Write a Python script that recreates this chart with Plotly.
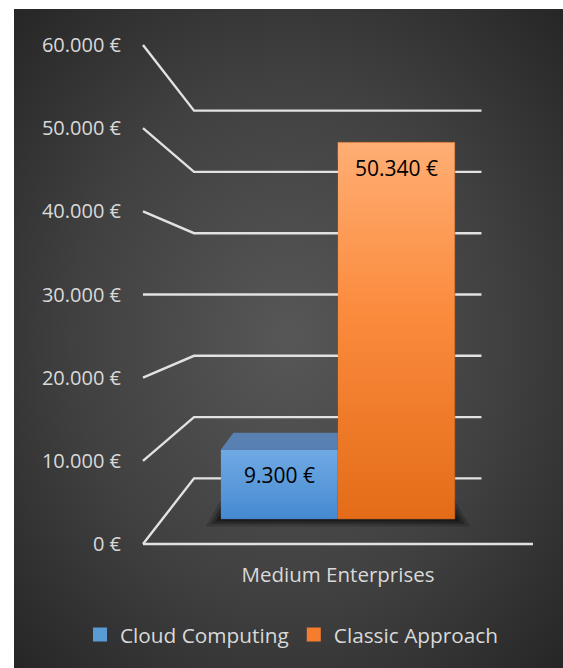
import base64
import plotly.graph_objects as go

# ---------------- data ----------------
categories = ["Medium Enterprises"]
series_names = ["Cloud Computing", "Classic Approach"]
cloud_computing = [9300]
classic_approach = [50340]
y_tick_values = [0, 10000, 20000, 30000, 40000, 50000, 60000]

series_values = [cloud_computing, classic_approach]

# ---------------- layout / style constants ----------------
W, H = 563, 668
L, R, T, B = 133, 10, 20, 108
PLOT_W = W - L - R
PLOT_H = H - T - B
Y0_PX, YTOP_PX = 544, 45          # pixel rows of 0 and of the top tick on the front plane
PPV = (Y0_PX - YTOP_PX) / y_tick_values[-1]
Y_RANGE = [(Y0_PX - (H - B)) / PPV, (Y0_PX - T) / PPV]
X_RANGE = [L, W - R]

VX = 337          # vanishing point (horizontal)
VH = 30000        # horizon expressed as an axis value
F_BACK = 0.737    # depth scale of back wall
F_BAR_FRONT = 0.90
F_BAR_BACK = 0.803
WALL_LEFT, WALL_RIGHT = 143, 533
GROUP_CENTER = 338
BAR_W = 130

LINE_COLOR = "#e2e2e2"
TEXT_COLOR = "#d9d9d9"
FONT = "Open Sans"

front_grad = [
    [[0, "#4689d0"], [1, "#70aae4"]],
    [[0, "#e46c18"], [0.55, "#fb8b3d"], [1, "#ffae74"]],
]
top_color = ["#5880b0", "#f09050"]
legend_color = ["#5b9bd5", "#f47d2e"]
edge_color = ["rgba(60,100,160,0.35)", "rgba(170,85,30,0.55)"]


def proj(u, v, f):
    """perspective projection of (horizontal u, value v, depth factor f)"""
    return VX + f * (u - VX), VH + f * (v - VH)


def fmt(v):
    return f"{v:,}".replace(",", ".") + " €"


fig = go.Figure()

# ---- soft shadow under the bars ----
for pad, fr, bk, op in [(12, 0.93, 0.79, 0.18), (8, 0.92, 0.795, 0.25), (4, 0.91, 0.80, 0.35)]:
    ul = GROUP_CENTER - BAR_W - pad
    ur = GROUP_CENTER + BAR_W + pad
    pts = [proj(ul, 0, fr), proj(ur, 0, fr), proj(ur, 0, bk), proj(ul, 0, bk)]
    fig.add_trace(go.Scatter(
        x=[p[0] for p in pts], y=[p[1] for p in pts], fill="toself", mode="lines",
        line=dict(width=0), fillcolor=f"rgba(0,0,0,{op})", hoverinfo="skip", showlegend=False))

# ---- walls / floor lines ----
gx, gy = [], []
for t in y_tick_values:
    for (u, f) in [(WALL_LEFT, 1.0), (WALL_LEFT, F_BACK), (WALL_RIGHT, F_BACK)]:
        px, py = proj(u, t, f)
        gx.append(px)
        gy.append(py)
    gx.append(None)
    gy.append(None)
for u in (WALL_LEFT, WALL_RIGHT):
    px, py = proj(u, y_tick_values[0], 1.0)
    gx.append(px)
    gy.append(py)
fig.add_trace(go.Scatter(x=gx, y=gy, mode="lines", line=dict(color=LINE_COLOR, width=2.4),
                         hoverinfo="skip", showlegend=False))

# ---- bars ----
annotations = []
for i, (name, vals) in enumerate(zip(series_names, series_values)):
    v = vals[0]
    ul = GROUP_CENTER - BAR_W + i * BAR_W
    ur = ul + BAR_W
    # top face
    pts = [proj(ul, v, F_BAR_FRONT), proj(ur, v, F_BAR_FRONT),
           proj(ur, v, F_BAR_BACK), proj(ul, v, F_BAR_BACK)]
    fig.add_trace(go.Scatter(
        x=[p[0] for p in pts], y=[p[1] for p in pts], fill="toself", mode="lines",
        line=dict(width=0), fillcolor=top_color[i], hoverinfo="skip", showlegend=False))
    # front face
    pts = [proj(ul, 0, F_BAR_FRONT), proj(ur, 0, F_BAR_FRONT),
           proj(ur, v, F_BAR_FRONT), proj(ul, v, F_BAR_FRONT)]
    fig.add_trace(go.Scatter(
        x=[p[0] for p in pts], y=[p[1] for p in pts], fill="toself", mode="lines",
        line=dict(width=1, color=edge_color[i]),
        fillgradient=dict(type="vertical", colorscale=front_grad[i]),
        hoverinfo="skip", showlegend=False))
    cx, cy = proj((ul + ur) / 2, v, F_BAR_FRONT)
    annotations.append(dict(x=cx, y=cy, xref="x", yref="y", text=fmt(v), showarrow=False,
                            yanchor="middle", yshift=-26,
                            font=dict(family=FONT, size=21, color="#000000")))

# ---- legend entries ----
for i, name in enumerate(series_names):
    fig.add_trace(go.Scatter(x=[None], y=[None], mode="markers", name=name,
                             marker=dict(symbol="square", size=14, color=legend_color[i])))

# ---- background (radial gradient) ----
svg = ('<svg xmlns="http://www.w3.org/2000/svg" width="549" height="659">'
       '<defs><radialGradient id="g" cx="0.5" cy="0.5" r="0.72">'
       '<stop offset="0" stop-color="#575757"/><stop offset="0.55" stop-color="#404040"/>'
       '<stop offset="1" stop-color="#252525"/></radialGradient></defs>'
       '<rect width="100%" height="100%" fill="url(#g)"/></svg>')
src = "data:image/svg+xml;base64," + base64.b64encode(svg.encode()).decode()
BG_X0, BG_Y0 = 14, 9
img = dict(source=src, xref="paper", yref="paper",
           x=(BG_X0 - L) / PLOT_W, y=((H - B) - BG_Y0) / PLOT_H,
           sizex=(W - BG_X0) / PLOT_W, sizey=(H - BG_Y0) / PLOT_H,
           xanchor="left", yanchor="top", sizing="stretch", layer="below")

fig.update_layout(
    width=W, height=H,
    margin=dict(l=L, r=R, t=T, b=B, pad=0, autoexpand=False),
    paper_bgcolor="#ffffff", plot_bgcolor="rgba(0,0,0,0)",
    separators=",.",
    images=[img],
    annotations=annotations,
    font=dict(family=FONT, color=TEXT_COLOR),
    xaxis=dict(range=X_RANGE, showgrid=False, zeroline=False, showline=False,
               tickmode="array", tickvals=[GROUP_CENTER], ticktext=categories,
               tickfont=dict(family=FONT, size=20.5, color=TEXT_COLOR), ticks="",
               ticklabelstandoff=0, fixedrange=True),
    yaxis=dict(range=Y_RANGE, showgrid=False, zeroline=False, showline=False,
               tickmode="array", tickvals=y_tick_values,
               ticktext=[fmt(t) for t in y_tick_values],
               tickfont=dict(family=FONT, size=20, color=TEXT_COLOR), ticks="",
               ticklabelstandoff=11, fixedrange=True),
    legend=dict(orientation="h", x=(292 - L) / PLOT_W, xanchor="center",
                y=((H - B) - 635) / PLOT_H, yanchor="middle",
                font=dict(family=FONT, size=20.8, color=TEXT_COLOR),
                bgcolor="rgba(0,0,0,0)", itemclick=False, itemdoubleclick=False),
    showlegend=True,
)

fig.write_html("out.html", config=dict(displayModeBar=False))
